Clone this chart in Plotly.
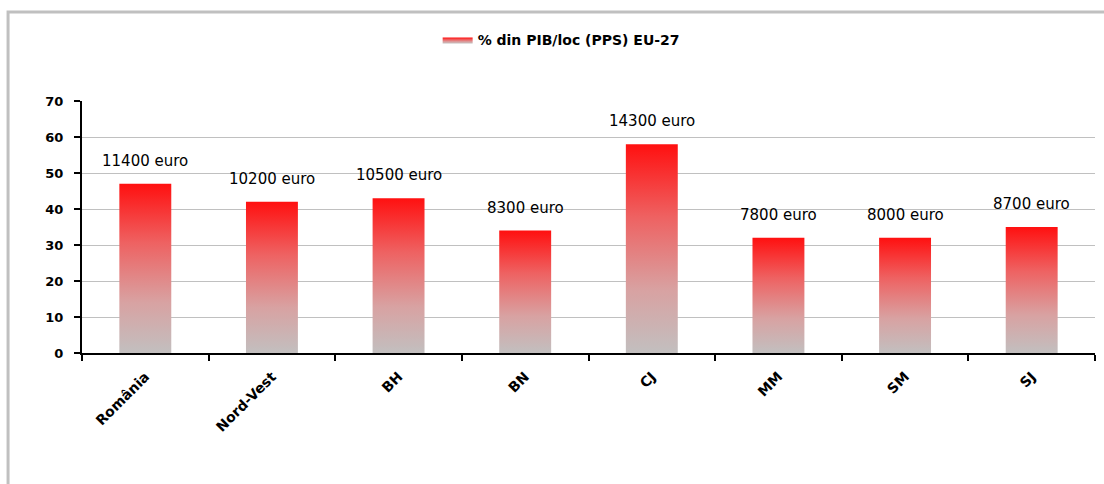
import plotly.graph_objects as go

# Regions and their GDP per capita (PPS) as % of the EU-27 average
categories = ["România", "Nord-Vest", "BH", "BN", "CJ", "MM", "SM", "SJ"]
pib_pct = [47, 42, 43, 34, 58, 32, 32, 35]
euro_labels = ["11400 euro", "10200 euro", "10500 euro", "8300 euro",
               "14300 euro", "7800 euro", "8000 euro", "8700 euro"]
series_name = "% din PIB/loc (PPS) EU-27"
y_ticks = [0, 10, 20, 30, 40, 50, 60, 70]

BAR_HALF = 0.205
gradient = dict(
    type="vertical",
    colorscale=[[0.0, "#c2bfbf"], [0.3, "#d8a2a2"], [0.65, "#ee6262"], [1.0, "#ff1010"]],
)

fig = go.Figure()
for i, (cat, val) in enumerate(zip(categories, pib_pct)):
    # each bar is a filled rectangle so it can carry a vertical colour gradient
    fig.add_trace(go.Scatter(
        x=[i - BAR_HALF, i + BAR_HALF, i + BAR_HALF, i - BAR_HALF, i - BAR_HALF],
        y=[0, 0, val, val, 0],
        mode="lines",
        fill="toself",
        fillgradient=gradient,
        line=dict(width=0),
        name=series_name,
        legendgroup="pib",
        showlegend=(i == 0),
        hoveron="fills",
        text=f"{cat}: {val}",
        hoverinfo="text",
    ))
    fig.add_annotation(
        x=i, y=val, text=euro_labels[i], showarrow=False,
        xanchor="center", yanchor="bottom", yshift=12,
        font=dict(family="DejaVu Sans", size=15, color="#000000"),
    )

# light grey frame around the chart
fig.add_shape(type="rect", xref="paper", yref="paper",
              x0=-0.073, x1=1.3, y0=-1.0, y1=1.353,
              line=dict(color="#c0c0c0", width=3), layer="below")

fig.update_layout(
    width=1104, height=484,
    margin=dict(l=82, r=9, t=101, b=131),
    paper_bgcolor="white", plot_bgcolor="white",
    showlegend=True,
    legend=dict(orientation="h", x=0.473, y=1.242, xanchor="center", yanchor="middle",
                font=dict(family="DejaVu Sans", size=14, weight="bold", color="#000000"),
                bgcolor="rgba(0,0,0,0)"),
    xaxis=dict(
        range=[-0.5, 7.5],
        tickmode="array", tickvals=list(range(len(categories))), ticktext=categories,
        ticks="", tickangle=-45, ticklabelstandoff=8,
        tickfont=dict(family="DejaVu Sans", size=14, weight="bold", color="#000000"),
        showline=True, linecolor="#000000", linewidth=2,
        showgrid=False, zeroline=False,
        minor=dict(tickmode="array", tickvals=[k - 0.5 for k in range(len(categories) + 1)],
                   ticks="outside", ticklen=6, tickcolor="#000000", tickwidth=2, showgrid=False),
    ),
    yaxis=dict(
        range=[0, 70],
        tickmode="array", tickvals=y_ticks,
        ticks="outside", ticklen=6, tickcolor="#000000", tickwidth=2,
        ticklabelstandoff=8,
        tickfont=dict(family="DejaVu Sans", size=13, weight="bold", color="#000000"),
        showline=True, linecolor="#000000", linewidth=2,
        showgrid=True, gridcolor="#c0c0c0", gridwidth=1,
        zeroline=False,
    ),
)

fig.write_html("out.html")
